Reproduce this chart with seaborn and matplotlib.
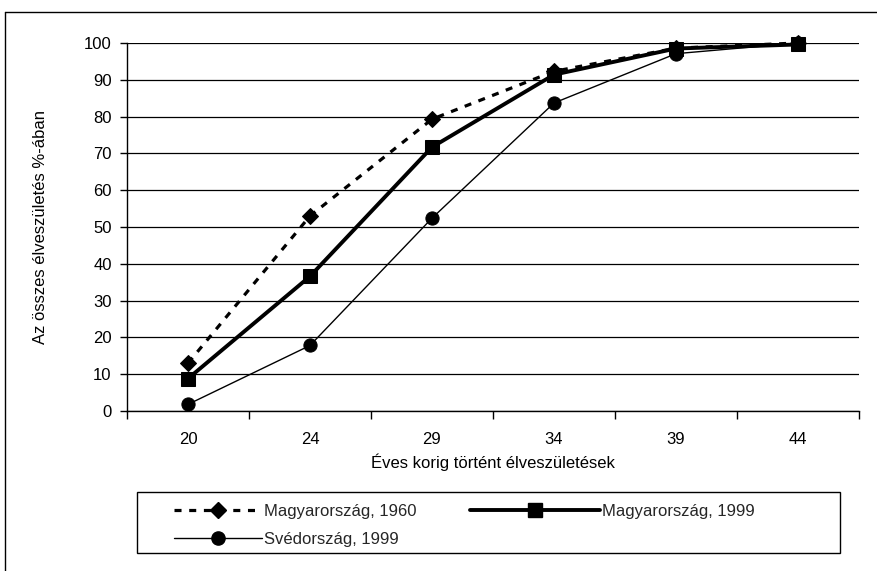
import matplotlib
matplotlib.use("Agg")
import matplotlib.pyplot as plt
from matplotlib.lines import Line2D
from matplotlib.patches import Rectangle
from matplotlib.ticker import FixedLocator
import seaborn as sns
import pandas as pd

ages = ["20", "24", "29", "34", "39", "44"]
hu_1960 = [13.0, 53.0, 79.3, 92.3, 98.6, 100.0]
hu_1999 = [8.8, 36.6, 71.7, 91.4, 98.5, 99.6]
se_1999 = [1.8, 17.8, 52.4, 83.7, 97.1, 100.0]
labels = ["Magyarország, 1960", "Magyarország, 1999", "Svédország, 1999"]

sns.set_theme(style="white")
plt.rcParams['font.family'] = ['Liberation Sans', 'DejaVu Sans']

fig = plt.figure(figsize=(8.77, 5.71), dpi=100)
ax = fig.add_axes([127/877, 1-411/571, 732/877, 368/571])

df = pd.DataFrame({"age": ages * 3,
                   "val": hu_1960 + hu_1999 + se_1999,
                   "series": [labels[0]]*6 + [labels[1]]*6 + [labels[2]]*6})

styles = {
    labels[0]: dict(ls=(0, (2.2, 2.4)), lw=2.3, marker="D", ms=8.5),
    labels[1]: dict(ls="-", lw=2.8, marker="s", ms=10),
    labels[2]: dict(ls="-", lw=1.0, marker="o", ms=9.5),
}
handles = {}
for lab in [labels[2], labels[1], labels[0]]:
    st = styles[lab]
    sub = df[df.series == lab]
    sns.lineplot(data=sub, x="age", y="val", ax=ax, color="black",
                 linestyle=st["ls"], linewidth=st["lw"], marker=st["marker"],
                 markersize=st["ms"], markeredgecolor="black", markerfacecolor="black",
                 sort=False, legend=False, clip_on=False)
    handles[lab] = Line2D([], [], color="black", linestyle=st["ls"], linewidth=st["lw"],
                          marker=st["marker"], markersize=st["ms"])

ax.set_xlim(-0.5, 5.5)
ax.set_ylim(0, 100)
ax.set_yticks(range(0, 101, 10))
ax.set_xticks(range(6))
ax.set_xticklabels(ages)
ax.xaxis.set_minor_locator(FixedLocator([i - 0.5 for i in range(7)]))
ax.tick_params(axis="x", which="major", length=0, labelsize=12, pad=15, colors="black")
ax.tick_params(axis="x", which="minor", length=6, width=1, color="black", direction="out", bottom=True)
ax.tick_params(axis="y", which="major", length=5, width=1, color="black", direction="out",
               left=True, labelsize=12, pad=6, colors="black")
ax.yaxis.grid(True, color="black", linewidth=0.9)
ax.set_axisbelow(True)
for s in ["top", "right"]:
    ax.spines[s].set_visible(False)
for s in ["left", "bottom"]:
    ax.spines[s].set_color("black")
    ax.spines[s].set_linewidth(1.0)

ax.set_xlabel("Éves korig történt élveszületések", fontsize=12, color="black", labelpad=5)
ax.set_ylabel("Az összes élveszületés %-ában", fontsize=12, color="black", labelpad=26)

# legend frame
fig.add_artist(Rectangle((137/877, 1-553/571), (840-137)/877, 61/571,
                         transform=fig.transFigure, fill=False, edgecolor="black", lw=1.0))

leg_common = dict(loc="upper left", frameon=False, borderpad=0, borderaxespad=0,
                  fontsize=12, handletextpad=0.12, labelspacing=0.78)
leg1 = fig.legend([handles[labels[0]], handles[labels[2]]], [labels[0], labels[2]],
                  bbox_to_anchor=(174/877, 1-504/571), handlelength=5.3, **leg_common)
leg2 = fig.legend([handles[labels[1]]], [labels[1]],
                  bbox_to_anchor=(470/877, 1-504/571), handlelength=7.8, **leg_common)

# outer chart border (partially visible)
fig.add_artist(Line2D([5/877, 1], [1-12/571, 1-12/571], color="black", lw=1.0, transform=fig.transFigure))
fig.add_artist(Line2D([5/877, 5/877], [0, 1-12/571], color="black", lw=1.0, transform=fig.transFigure))

fig.savefig("out.png", dpi=100)
